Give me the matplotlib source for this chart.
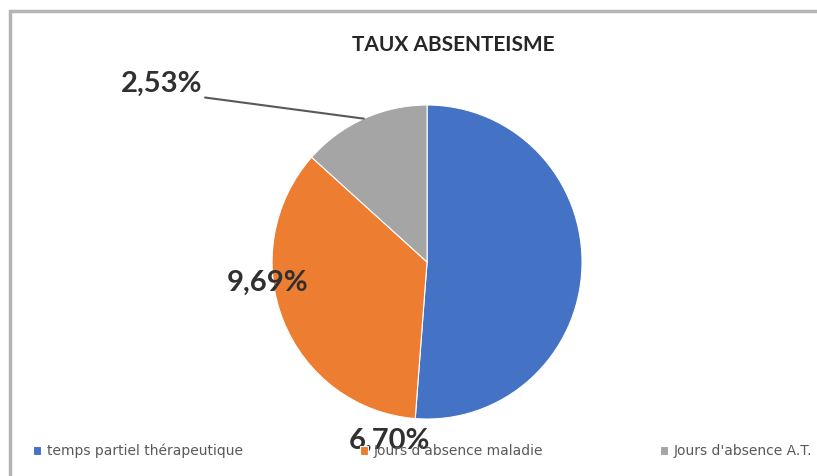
import numpy as np
import matplotlib.pyplot as plt
from matplotlib.patches import Rectangle

categories = ["temps partiel thérapeutique", "Jours d'absence maladie", "Jours d'absence A.T."]
valeurs = [9.69, 6.70, 2.53]
etiquettes = ["9,69%", "6,70%", "2,53%"]
couleurs = ["#4472C4", "#ED7D31", "#A5A5A5"]

fig = plt.figure(figsize=(8.17, 4.76), dpi=100)

# cadre gris du graphique (coupé à droite et en bas)
fig.add_artist(Rectangle((9.5 / 817, -0.1), 1.2, (476 - 10.5) / 476 + 0.1,
                         transform=fig.transFigure, fill=False,
                         edgecolor="#b4b4b4", linewidth=2.5))

fig.text(453 / 817, (476 - 45) / 476, "TAUX ABSENTEISME", ha="center", va="center",
         fontsize=15, fontweight="bold", family="Lato", color="#262626")

ax = fig.add_axes([0.333, 0.1197, 0.3794, 0.6597])
wedges, _ = ax.pie(valeurs, colors=couleurs, startangle=90, counterclock=False,
                   wedgeprops=dict(edgecolor="white", linewidth=0.8))
ax.set_aspect("auto")
ax.set_xlim(-1, 1)
ax.set_ylim(-1, 1)

style = dict(fontsize=21, family="Lato", fontweight="bold", color="#303030")
# étiquettes déplacées à la main comme dans l'original
ax.text(-1.03, -0.13, etiquettes[0], ha="center", va="center", **style)
ax.text(-0.245, -1.14, etiquettes[1], ha="center", va="center", zorder=5, **style)

w = wedges[2]
milieu = np.deg2rad((w.theta1 + w.theta2) / 2)
ax.annotate(etiquettes[2], xy=(np.cos(milieu), np.sin(milieu)), xytext=(-1.45, 1.05),
            ha="right", va="bottom", annotation_clip=False,
            arrowprops=dict(arrowstyle="-", color="#595959", lw=1.5,
                            relpos=(1, 0), shrinkA=0, shrinkB=0),
            **style)

fig.legend(handles=wedges, labels=categories, loc="center",
           bbox_to_anchor=(33 / 817, (476 - 451) / 476, (812 - 33) / 817, 0),
           ncol=3, mode="expand", frameon=False, fontsize=10,
           handlelength=0.6, handleheight=0.6, handletextpad=0.4,
           borderpad=0, borderaxespad=0, labelcolor="#595959")

fig.savefig("out.png", dpi=100)
